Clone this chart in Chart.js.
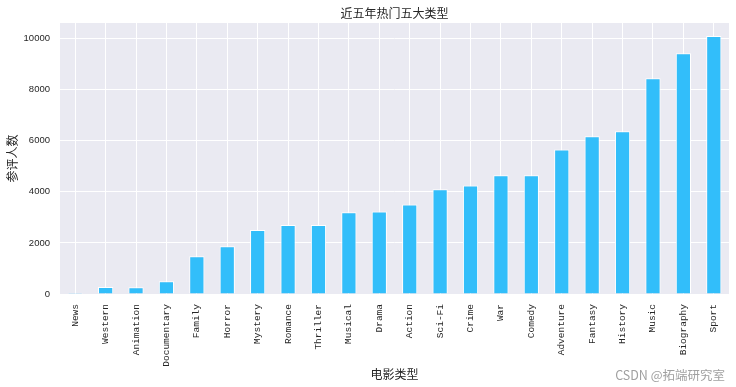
<!DOCTYPE html>
<html>
<head>
<meta charset="utf-8">
<script src="https://cdn.jsdelivr.net/npm/chart.js@4/dist/chart.umd.min.js"></script>
<style>
html,body{margin:0;padding:0;background:#fff;}
#wrap{width:736px;height:387px;}
</style>
</head>
<body>
<div id="wrap"><canvas id="c" width="736" height="387"></canvas></div>
<script>
const categories = ["News","Western","Animation","Documentary","Family","Horror","Mystery","Romance","Thriller","Musical","Drama","Action","Sci-Fi","Crime","War","Comedy","Adventure","Fantasy","History","Music","Biography","Sport"];
const reviewers = [40,270,265,500,1480,1870,2500,2700,2700,3200,3230,3500,4100,4250,4650,4650,5650,6170,6370,8440,9420,10100];
const yTicks = [0,2000,4000,6000,8000,10000];
const titleText = "近五年热门五大类型";
const yTitle = "参评人数";
const xTitle = "电影类型";
const watermark = "CSDN @拓端研究室";

const textColor = "#262626";
const bgPlugin = {
  id: "bg",
  beforeDraw(chart) {
    const {ctx, chartArea: a} = chart;
    ctx.save();
    ctx.fillStyle = "#EAEAF2";
    ctx.fillRect(a.left, a.top, a.right - a.left, a.bottom - a.top);
    ctx.restore();
  },
  afterDraw(chart) {
    const {ctx, chartArea: a} = chart;
    ctx.save();
    ctx.fillStyle = textColor;
    ctx.font = '12px "Noto Sans CJK SC"';
    ctx.textAlign = "center";
    ctx.textBaseline = "middle";
    ctx.fillText(titleText, (a.left + a.right) / 2, 13);
    ctx.font = '12.5px "Noto Sans CJK SC"';
    ctx.textAlign = "right";
    ctx.fillStyle = "#a0a0a0";
    ctx.fillText(watermark, 725, 375);
    ctx.restore();
  }
};

new Chart(document.getElementById("c"), {
  type: "bar",
  data: {
    labels: categories,
    datasets: [{
      data: reviewers,
      backgroundColor: "#32BEFA",
      borderColor: "#ffffff",
      borderWidth: 1,
      barPercentage: 0.5,
      categoryPercentage: 1.0
    }]
  },
  options: {
    responsive: false,
    animation: false,
    layout: { padding: { top: 23, right: 7, left: 0, bottom: 0 } },
    plugins: { legend: { display: false }, title: { display: false }, tooltip: { enabled: false } },
    scales: {
      x: {
        afterFit(s) { s.height = 93; },
        grid: { color: "#ffffff", lineWidth: 1, drawTicks: false, offset: false },
        border: { display: false },
        ticks: {
          autoSkip: false, maxRotation: 90, minRotation: 90, padding: 10,
          color: textColor, font: { family: '"Liberation Mono"', size: 9.5 }
        },
        title: {
          display: true, text: xTitle, color: textColor,
          font: { family: '"Noto Sans CJK SC"', size: 12 }, padding: { top: 0, bottom: 5 }
        }
      },
      y: {
        afterFit(s) { s.width = 60; },
        min: 0, max: 10605,
        afterBuildTicks(s) { s.ticks = yTicks.map(v => ({ value: v })); },
        grid: { color: "#ffffff", lineWidth: 1, drawTicks: false },
        border: { display: false },
        ticks: {
          padding: 10, color: textColor,
          font: { family: '"Liberation Sans"', size: 9.5 },
          callback: (v) => String(v)
        },
        title: {
          display: true, text: yTitle, color: textColor,
          font: { family: '"Noto Sans CJK SC"', size: 12 }, padding: { top: 5, bottom: 0 }
        }
      }
    }
  },
  plugins: [bgPlugin]
});
</script>
</body>
</html>
